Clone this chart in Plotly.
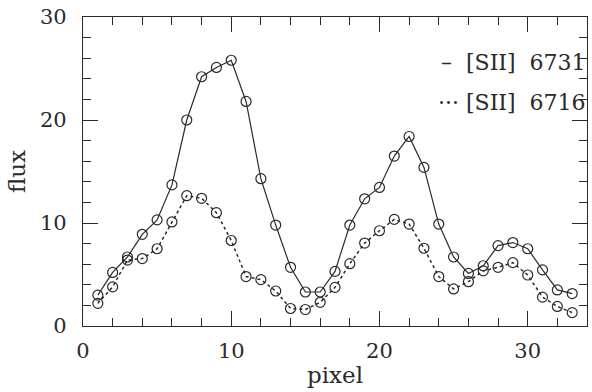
import plotly.graph_objects as go

pixel = list(range(1, 34))
flux_6731 = [3.0, 5.2, 6.7, 8.9, 10.3, 13.7, 20.0, 24.2, 25.1, 25.8, 21.8, 14.3, 9.8, 5.7, 3.3, 3.3,
             5.3, 9.8, 12.35, 13.45, 16.5, 18.4, 15.4, 9.9, 6.7, 5.1, 5.85, 7.8, 8.1, 7.5, 5.45, 3.5, 3.15]
flux_6716 = [2.2, 3.8, 6.4, 6.55, 7.5, 10.1, 12.65, 12.4, 11.0, 8.3, 4.8, 4.5, 3.4, 1.7, 1.6, 2.3,
             3.75, 6.05, 8.05, 9.25, 10.35, 9.9, 7.55, 4.8, 3.6, 4.3, 5.35, 5.7, 6.15, 4.95, 2.8, 1.9, 1.3]
legend_labels = ["[SII] 6731", "[SII] 6716"]

FONT = "DejaVu Serif"
INK = "#2a2a2a"
FS = 21
FT = 23

fig = go.Figure()
fig.add_trace(go.Scatter(x=pixel, y=flux_6731, mode="lines+markers", name=legend_labels[0],
                         line=dict(color=INK, width=1.2, dash="solid"),
                         marker=dict(symbol="circle-open", size=10, color=INK, line=dict(width=1.2))))
fig.add_trace(go.Scatter(x=pixel, y=flux_6716, mode="lines+markers", name=legend_labels[1],
                         line=dict(color=INK, width=1.5, dash="dot"),
                         marker=dict(symbol="circle-open", size=10, color=INK, line=dict(width=1.2))))
# invisible trace on mirrored axes so their ticks get drawn
fig.add_trace(go.Scatter(x=[pixel[0]], y=[flux_6731[0]], xaxis="x2", yaxis="y2", mode="markers",
                         marker=dict(opacity=0), hoverinfo="skip", showlegend=False))

NB = "\u00a0"
fig.add_annotation(x=1, y=1, xref="paper", yref="paper", xanchor="right", yanchor="middle",
                   text="\u2013" + NB * 2 + legend_labels[0].replace(" ", NB * 2), showarrow=False,
                   xshift=1, yshift=-45, font=dict(family=FONT, size=FT - 1, color=INK))
fig.add_annotation(x=1, y=1, xref="paper", yref="paper", xanchor="right", yanchor="middle",
                   text="\u00b7\u00b7\u00b7" + NB + legend_labels[1].replace(" ", NB * 2), showarrow=False,
                   xshift=1, yshift=-85, font=dict(family=FONT, size=FT - 1, color=INK))

minor = dict(dtick=2, ticks="inside", ticklen=8, tickcolor=INK, tickwidth=1.2)
axis_common = dict(showline=True, linecolor=INK, linewidth=1.3, ticks="inside",
                   ticklen=15, tickwidth=1.2, tickcolor=INK, showgrid=False, zeroline=False,
                   tickfont=dict(family=FONT, size=FS, color=INK), minor=minor, dtick=10, tick0=0)

fig.update_layout(
    width=592, height=392, showlegend=False,
    margin=dict(l=83, r=5, t=15, b=66),
    paper_bgcolor="white", plot_bgcolor="white",
    xaxis=dict(range=[0, 34], ticklabelstandoff=6,
               title=dict(text="pixel", font=dict(family=FONT, size=FT, color=INK), standoff=4),
               **axis_common),
    yaxis=dict(range=[0, 30], ticklabelstandoff=11,
               title=dict(text="flux", font=dict(family=FONT, size=FT, color=INK), standoff=7),
               **axis_common),
    xaxis2=dict(range=[0, 34], overlaying="x", side="top", anchor="y", showticklabels=False,
                **{k: v for k, v in axis_common.items() if k != "tickfont"}),
    yaxis2=dict(range=[0, 30], overlaying="y", side="right", anchor="x", showticklabels=False,
                **{k: v for k, v in axis_common.items() if k != "tickfont"}),
)

fig.write_html("out.html")
